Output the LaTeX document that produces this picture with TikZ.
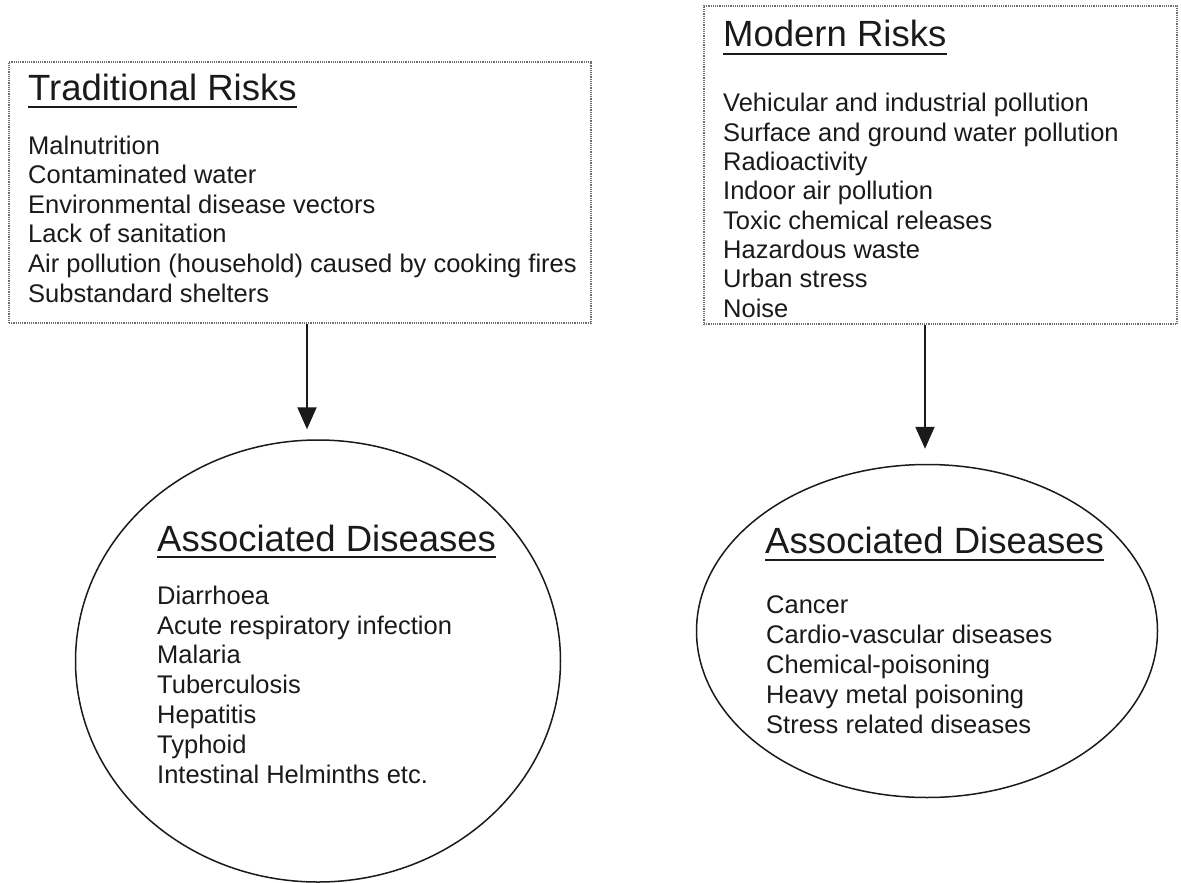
\documentclass[tikz,border=0pt]{standalone}
\usepackage{fontspec}
\setmainfont{Liberation Sans}
\usetikzlibrary{positioning, arrows.meta, shapes.geometric}
\definecolor{frameGray}{HTML}{6E6E6E}
\definecolor{inkBlack}{HTML}{1A1A1A}

\begin{document}
\begin{tikzpicture}[
  x=1pt, y=-1pt,
  >={Triangle[length=22pt, width=19pt]},
  riskbox/.style={rectangle, draw=frameGray, line width=1.8pt, dash pattern=on 1.2pt off 1pt,
                  inner sep=0pt, anchor=north west},
  disease/.style={ellipse, draw=inkBlack, line width=1.5pt, inner sep=0pt},
  head/.style={anchor=base west, inner sep=0pt, text=inkBlack, font=\fontsize{36.5}{40}\selectfont},
  items/.style={anchor=base west, inner sep=0pt, align=left, text=inkBlack},
  uline/.style={draw=inkBlack, line width=1.8pt},
  flow/.style={->, draw=inkBlack, line width=2pt},
]
\useasboundingbox[fill=white] (0,0) rectangle (1181,883);

% ===== Traditional risks =====================================================
\node[riskbox, minimum width=582pt, minimum height=261pt] (tradbox) at (8,61) {};
\node[head] (tradhead) at (28,100) {Traditional Risks};
\draw[uline] ([yshift=-7pt]tradhead.base west) -- ([yshift=-7pt]tradhead.base east);
% list sits on the baseline of its last line
\node[items, font=\fontsize{25.5}{29.6}\selectfont] (tradlist) at (28,302)
  {Malnutrition\\
   Contaminated water\\
   Environmental disease vectors\\
   Lack of sanitation\\
   Air pollution (household) caused by cooking fires\\
   Substandard shelters};

% ===== Modern risks ==========================================================
\node[riskbox, minimum width=473pt, minimum height=318pt] (modbox) at (703,5) {};
\node[head] (modhead) at (723,47) {Modern Risks};
\draw[uline] ([yshift=-7pt]modhead.base west) -- ([yshift=-7pt]modhead.base east);
\node[items, font=\fontsize{25.5}{29.3}\selectfont] (modlist) at (723,317)
  {Vehicular and industrial pollution\\
   Surface and ground water pollution\\
   Radioactivity\\
   Indoor air pollution\\
   Toxic chemical releases\\
   Hazardous waste\\
   Urban stress\\
   Noise};

% ===== Associated diseases (traditional) =====================================
\node[disease, minimum width=485pt, minimum height=442pt] (tradill) at (318,661) {};
\node[head] (tradillhead) at (157,551) {Associated Diseases};
\draw[uline] ([yshift=-6pt]tradillhead.base west) -- ([yshift=-6pt]tradillhead.base east);
\node[items, font=\fontsize{25.5}{29.8}\selectfont] (tradilllist) at (157,783)
  {Diarrhoea\\
   Acute respiratory infection\\
   Malaria\\
   Tuberculosis\\
   Hepatitis\\
   Typhoid\\
   Intestinal Helminths etc.};

% ===== Associated diseases (modern) ==========================================
\node[disease, minimum width=461pt, minimum height=333pt] (modill) at (927,631) {};
\node[head] (modillhead) at (765,553) {Associated Diseases};
\draw[uline] ([yshift=-7pt]modillhead.base west) -- ([yshift=-7pt]modillhead.base east);
\node[items, font=\fontsize{25.5}{30}\selectfont] (modilllist) at (766,733)
  {Cancer\\
   Cardio-vascular diseases\\
   Chemical-poisoning\\
   Heavy metal poisoning\\
   Stress related diseases};

% ===== risk -> disease arrows ================================================
\draw[flow] ([xshift=-11pt]tradill.north |- tradbox.south) -- ([xshift=-11pt, yshift=10pt]tradill.north);
\draw[flow] ([xshift=-2pt]modill.north |- modbox.south) -- ([xshift=-2pt, yshift=15pt]modill.north);

\end{tikzpicture}
\end{document}
